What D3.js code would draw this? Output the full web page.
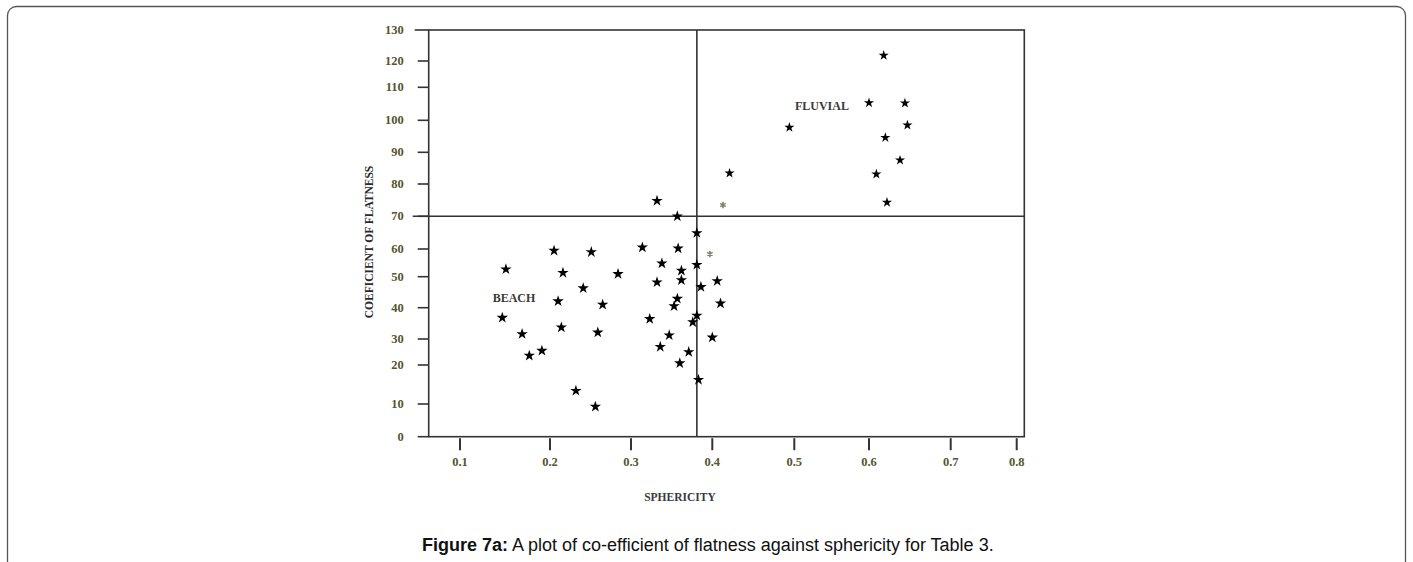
<!DOCTYPE html>
<html>
<head>
<meta charset="utf-8">
<script src="https://cdn.jsdelivr.net/npm/d3@7"></script>
<style>
  body { margin: 0; background: #fff; }
  text { font-family: "Liberation Serif", "Times New Roman", serif; }
</style>
</head>
<body>
<div id="chart"></div>
<script>
// ----------------------
// Data
// ----------------------
const xTicks = [0.1, 0.2, 0.3, 0.4, 0.5, 0.6, 0.7, 0.8];
const yTicks = [0, 10, 20, 30, 40, 50, 60, 70, 80, 90, 100, 110, 120, 130];

// beach-type samples: [sphericity, coefficient of flatness]
const beachPoints = [
  [0.147, 36.8], [0.151, 52.7], [0.169, 31.6], [0.177, 23.6], [0.191, 25.5],
  [0.205, 59.4], [0.210, 42.1], [0.214, 33.7], [0.216, 51.4], [0.232, 13.4],
  [0.241, 46.3], [0.251, 58.9], [0.256, 9.2], [0.259, 32.1], [0.265, 41.0],
  [0.284, 51.0], [0.314, 60.5], [0.323, 36.4], [0.332, 48.2], [0.332, 74.8],
  [0.336, 27.0], [0.338, 54.8], [0.347, 31.2], [0.353, 40.5], [0.357, 42.9],
  [0.357, 70.0], [0.358, 60.2], [0.360, 20.7], [0.362, 52.2], [0.362, 48.9],
  [0.371, 25.0], [0.376, 35.4], [0.381, 64.9], [0.381, 54.3], [0.381, 37.5],
  [0.383, 16.2], [0.386, 46.7], [0.400, 30.5], [0.406, 48.6], [0.410, 41.4]
];

// fluvial-type samples
const fluvialPoints = [
  [0.421, 83.4], [0.494, 97.8], [0.600, 105.3], [0.609, 83.1], [0.618, 121.8],
  [0.620, 94.6], [0.622, 74.3], [0.638, 87.5], [0.644, 105.2], [0.647, 98.5]
];

// faint asterisk marks
const faintPoints = [[0.397, 58.2], [0.413, 73.5]];

// dividing lines
const splitX = 0.381;
const splitY = 70;

const groupLabels = [
  { text: "BEACH", x: 0.160, y: 42.0 },
  { text: "FLUVIAL", x: 0.537, y: 103.1 }
];

// ----------------------
// Layout
// ----------------------
const width = 1413, height = 562;
// hand-drawn axes: tick spacing on the original is not even
const xTickPos = [460, 550, 631, 712.3, 794.3, 869, 950.7, 1016.7];
const yTickPos = [436.7, 404, 365, 339, 307.7, 276.7, 249, 216.3, 184, 152.3, 120.3, 87.3, 61, 30];
const frame = { left: 428.7, right: 1024.3, top: 30, bottom: 436.7 };
const labelColor = "#55552f";
const lineColor = "#333";

const svg = d3.select("#chart")
    .append("svg")
    .attr("width", width)
    .attr("height", height);

// outer figure box
svg.append("rect")
    .attr("x", 7.5).attr("y", 6.5)
    .attr("width", 1398).attr("height", 620)
    .attr("rx", 9)
    .attr("fill", "none")
    .attr("stroke", "#555")
    .attr("stroke-width", 1.3);

const x = d3.scaleLinear().domain(xTicks).range(xTickPos);
const y = d3.scaleLinear().domain(yTicks).range(yTickPos);

const g = svg.append("g");

// plot frame
g.append("rect")
    .attr("x", frame.left).attr("y", frame.top)
    .attr("width", frame.right - frame.left)
    .attr("height", frame.bottom - frame.top)
    .attr("fill", "none")
    .attr("stroke", lineColor)
    .attr("stroke-width", 1.6);

// y ticks + labels
g.selectAll(".ytick")
    .data(yTicks)
    .enter()
    .append("line")
    .attr("x1", d => d === 130 ? frame.left - 14 : frame.left - 11)
    .attr("x2", frame.left)
    .attr("y1", d => y(d)).attr("y2", d => y(d))
    .attr("stroke", lineColor)
    .attr("stroke-width", 1.6);

g.selectAll(".ylab")
    .data(yTicks)
    .enter()
    .append("text")
    .attr("x", frame.left - 25)
    .attr("y", d => y(d) + 4)
    .attr("text-anchor", "end")
    .attr("font-size", 12.5)
    .attr("font-weight", "bold")
    .attr("fill", labelColor)
    .text(d => d);

// x ticks + labels
g.selectAll(".xtick")
    .data(xTicks)
    .enter()
    .append("line")
    .attr("x1", d => x(d)).attr("x2", d => x(d))
    .attr("y1", frame.bottom + 1.5)
    .attr("y2", frame.bottom + 13.5)
    .attr("stroke", lineColor)
    .attr("stroke-width", 2);

g.selectAll(".xlab")
    .data(xTicks)
    .enter()
    .append("text")
    .attr("x", d => x(d))
    .attr("y", frame.bottom + 29.5)
    .attr("text-anchor", "middle")
    .attr("font-size", 12.5)
    .attr("font-weight", "bold")
    .attr("fill", labelColor)
    .text(d => d3.format(".1f")(d));

// dividing lines
g.append("line")
    .attr("x1", x(splitX)).attr("x2", x(splitX))
    .attr("y1", frame.top).attr("y2", frame.bottom)
    .attr("stroke", lineColor)
    .attr("stroke-width", 1.6);

g.append("line")
    .attr("x1", frame.left - 16).attr("x2", frame.right)
    .attr("y1", y(splitY)).attr("y2", y(splitY))
    .attr("stroke", lineColor)
    .attr("stroke-width", 1.6);

// points
const star = d3.symbol().type(d3.symbolStar);

g.selectAll(".beach")
    .data(beachPoints)
    .enter()
    .append("path")
    .attr("d", star.size(40)())
    .attr("transform", d => `translate(${x(d[0])},${y(d[1])})`)
    .attr("fill", "#000");

g.selectAll(".fluvial")
    .data(fluvialPoints)
    .enter()
    .append("path")
    .attr("d", star.size(32)())
    .attr("transform", d => `translate(${x(d[0])},${y(d[1])})`)
    .attr("fill", "#000");

g.selectAll(".faint")
    .data(faintPoints)
    .enter()
    .append("path")
    .attr("d", d3.symbol().type(d3.symbolAsterisk).size(28)())
    .attr("transform", d => `translate(${x(d[0])},${y(d[1])})`)
    .attr("fill", "none")
    .attr("stroke", "#8a8070")
    .attr("stroke-width", 1.6);

// group labels
g.selectAll(".glab")
    .data(groupLabels)
    .enter()
    .append("text")
    .attr("x", d => x(d.x))
    .attr("y", d => y(d.y))
    .attr("text-anchor", "middle")
    .attr("font-size", 12)
    .attr("font-weight", "bold")
    .attr("fill", "#3a3a3a")
    .text(d => d.text);

// axis titles
g.append("text")
    .attr("x", 680)
    .attr("y", 501)
    .attr("text-anchor", "middle")
    .attr("font-size", 11.5)
    .attr("font-weight", "bold")
    .attr("fill", "#3a3a40")
    .text("SPHERICITY");

g.append("text")
    .attr("transform", "translate(373,242) rotate(-90)")
    .attr("text-anchor", "middle")
    .attr("font-size", 11.5)
    .attr("font-weight", "bold")
    .attr("fill", "#2a2a2a")
    .text("COEFICIENT OF FLATNESS");

// caption
const caption = svg.append("text")
    .attr("x", 422)
    .attr("y", 551)
    .attr("font-size", 18)
    .attr("fill", "#111")
    .style("font-family", "'Liberation Sans', Arial, sans-serif");

caption.append("tspan").attr("font-weight", "bold").text("Figure 7a:");
caption.append("tspan").text(" A plot of co-efficient of flatness against sphericity for Table 3.");
</script>
</body>
</html>
